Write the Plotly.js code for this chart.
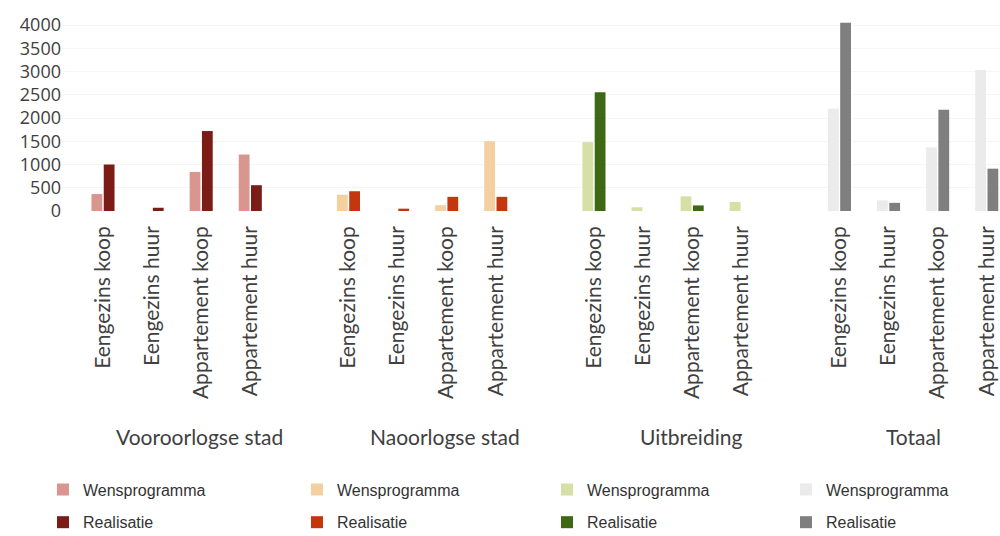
<!DOCTYPE html>
<html><head><meta charset="utf-8">
<script src="https://cdn.plot.ly/plotly-3.0.1.min.js"></script>
<style>html,body{margin:0;padding:0;background:#fff;overflow:hidden}#chart{width:1000px;height:536px}</style>
</head><body><div id="chart"></div>
<script>
var groups = ['Vooroorlogse stad', 'Naoorlogse stad', 'Uitbreiding', 'Totaal'];
var types = ['Eengezins koop', 'Eengezins huur', 'Appartement koop', 'Appartement huur'];
var seriesNames = ['Wensprogramma', 'Realisatie'];

var wensVooroorlogs = [365, 0, 840, 1215];
var realVooroorlogs = [1000, 70, 1720, 555];
var wensNaoorlogs = [350, 0, 125, 1500];
var realNaoorlogs = [425, 50, 305, 305];
var wensUitbreiding = [1480, 80, 315, 195];
var realUitbreiding = [2555, 0, 120, 0];
var wensTotaal = [2200, 230, 1370, 3030];
var realTotaal = [4050, 175, 2180, 910];

var wensColors = ['#d9968e', '#f4cfa0', '#d5dfa6', '#ebebeb'];
var realColors = ['#7b1d16', '#c4360e', '#3f6815', '#7f7f7f'];

var wensAll = [wensVooroorlogs, wensNaoorlogs, wensUitbreiding, wensTotaal];
var realAll = [realVooroorlogs, realNaoorlogs, realUitbreiding, realTotaal];

var slot = 5; // 4 categories + 1 empty slot per group
function xs(g) { return types.map(function (t, i) { return g * slot + i; }); }

var legendIds = ['legend', 'legend2', 'legend3', 'legend4'];
var traces = [];
groups.forEach(function (g, gi) {
  traces.push({type: 'bar', name: seriesNames[0], x: xs(gi), y: wensAll[gi], offsetgroup: 'w',
    legendgroup: g + 'w', marker: {color: wensColors[gi]}, legend: legendIds[gi],
    hovertemplate: g + '<br>%{y}<extra></extra>'});
  traces.push({type: 'bar', name: seriesNames[1], x: xs(gi), y: realAll[gi], offsetgroup: 'r',
    legendgroup: g + 'r', marker: {color: realColors[gi]}, legend: legendIds[gi],
    hovertemplate: g + '<br>%{y}<extra></extra>'});
});

var tickvals = [], ticktext = [];
groups.forEach(function (g, gi) { types.forEach(function (t, i) { tickvals.push(gi * slot + i); ticktext.push(t); }); });

var groupLabelOffset = [1.97, 1.97, 1.97, 1.5];
var annotations = groups.map(function (g, gi) {
  return {text: g, x: gi * slot + groupLabelOffset[gi], xref: 'x', y: -1.183, yref: 'paper', showarrow: false,
    xanchor: 'center', yanchor: 'middle', font: {family: 'Lato, Open Sans, sans-serif', size: 21, color: '#404040'}};
});

var legendX = [0.043, 0.297, 0.547, 0.786];
var layout = {
  width: 1000, height: 536,
  margin: {l: 62, r: 0, t: 20, b: 325, autoexpand: false},
  paper_bgcolor: '#fff', plot_bgcolor: '#fff',
  barmode: 'group', bargap: 0.5, bargroupgap: 0.12,
  xaxis: {type: 'linear', range: [-0.835, 18.27], tickvals: tickvals, ticktext: ticktext, tickangle: -90,
    showgrid: false, zeroline: false, showline: false, ticks: '', ticklabelstandoff: 10, automargin: false,
    tickfont: {family: 'Lato, Open Sans, sans-serif', size: 21, color: '#404040'}},
  yaxis: {range: [0, 4108], tickvals: [0, 500, 1000, 1500, 2000, 2500, 3000, 3500, 4000],
    showgrid: true, gridcolor: '#f5f5f5', zeroline: false, showline: false, ticks: '', automargin: false,
    tickfont: {family: 'Open Sans, sans-serif', size: 18, color: '#404040'}},
  annotations: annotations,
  showlegend: true
};
legendIds.forEach(function (id, i) {
  layout[id] = {orientation: 'v', xref: 'container', yref: 'container', xanchor: 'left', yanchor: 'top',
    x: legendX[i], y: 0.1185, traceorder: 'grouped', tracegroupgap: 9,
    font: {family: 'Liberation Sans, Arial, sans-serif', size: 16, color: '#333'}, bgcolor: 'rgba(0,0,0,0)'};
});

Plotly.newPlot('chart', traces, layout, {displayModeBar: false, staticPlot: true});
</script></body></html>
